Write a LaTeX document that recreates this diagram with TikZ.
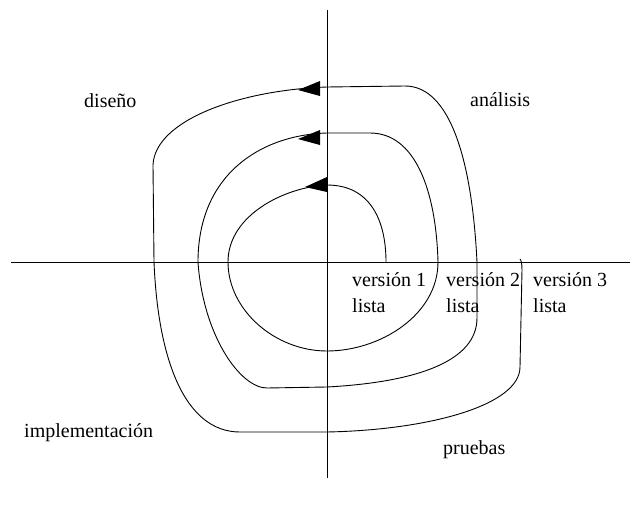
\documentclass[tikz,border=0pt]{standalone}
\usepackage{fontspec}
\setmainfont{Liberation Serif}
\begin{document}
\begin{tikzpicture}[x=1pt,y=-1pt,
  lbl/.style={anchor=base west,inner sep=0pt,font=\fontsize{20}{26}\selectfont},
  axis/.style={line width=0.9pt},
  spiral/.style={line width=0.9pt},
  head/.style={fill=black}]
\useasboundingbox (0,0) rectangle (630,506);
% axes
\draw[axis] (11,262) -- (630,262);
\draw[axis] (327,10) -- (327,478);
% spiral
\draw[spiral] (386,262)
  .. controls (386,220) and (370,185) .. (327,185)
  .. controls (285,187) and (228,215) .. (228,262)
  .. controls (228,310) and (275,351) .. (327,351)
  .. controls (380,351) and (438,315) .. (438,262)
  .. controls (436,190) and (415,133) .. (370,133)
  -- (327,133)
  .. controls (260,135) and (198,175) .. (198,262)
  .. controls (203,335) and (240,388) .. (267,388)
  -- (327,387)
  .. controls (420,382) and (477,360) .. (477,318)
  -- (477,262)
  .. controls (472,160) and (450,86) .. (405,86)
  -- (327,87)
  .. controls (240,90) and (155,120) .. (153,165)
  -- (154,262)
  .. controls (158,360) and (185,432) .. (240,432)
  -- (327,432)
  .. controls (430,430) and (520,405) .. (520,367)
  -- (522,270) .. controls (522,263) and (521,260) .. (520,259);
% arrowheads
\fill[head] (305,187) -- (327,177) -- (327,192) -- cycle;
\fill[head] (298,139) -- (320,130) -- (320,145) -- cycle;
\fill[head] (298,90) -- (320,81) -- (320,96) -- cycle;
% labels
\node[lbl] (dis) at (84,107) {diseño};
\node[lbl] (ana) at (470,106) {análisis};
\node[lbl] (imp) at (24,437) {implementación};
\node[lbl] (pru) at (443,454) {pruebas};
\node[lbl] (v1a) at (352,286) {versión 1};
\node[lbl] (v1b) at (352,312) {lista};
\node[lbl] (v2a) at (446,286) {versión 2};
\node[lbl] (v2b) at (446,312) {lista};
\node[lbl] (v3a) at (533,286) {versión 3};
\node[lbl] (v3b) at (533,312) {lista};
\end{tikzpicture}
\end{document}
